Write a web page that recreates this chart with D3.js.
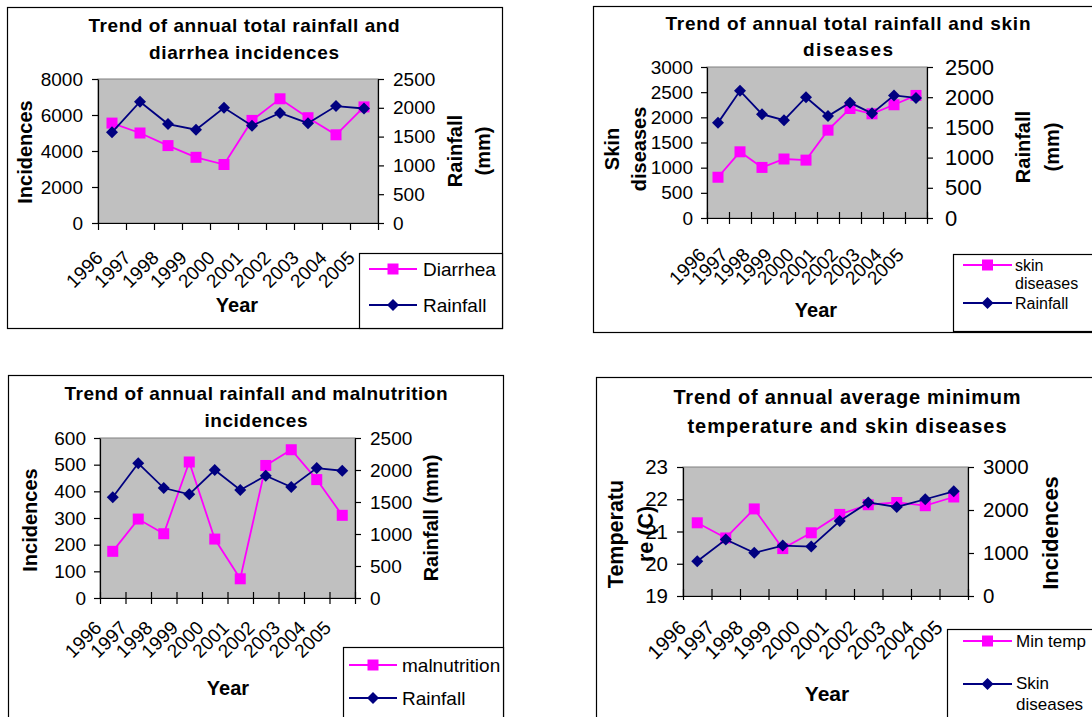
<!DOCTYPE html>
<html>
<head>
<meta charset="utf-8">
<script src="https://cdn.jsdelivr.net/npm/d3@7"></script>
<style>
  body { margin: 0; background: #fff; }
  svg { display: block; }
  text { font-family: "Liberation Sans", Arial, sans-serif; fill: #000; }
</style>
</head>
<body>
<svg id="chart" width="1092" height="717"></svg>
<script>
// ---- data ----
const years = ["1996", "1997", "1998", "1999", "2000", "2001", "2002", "2003", "2004", "2005"];
const rainfall = [1575, 2105, 1718, 1620, 2000, 1688, 1910, 1733, 2030, 1988];
const diarrhea = [5550, 5000, 4300, 3650, 3250, 5700, 6900, 5850, 4900, 6450];
const skinDiseases = [810, 1315, 1005, 1172, 1150, 1745, 2175, 2070, 2250, 2435];
const malnutrition = [175, 296, 241, 510, 221, 72, 497, 556, 444, 310];
const minTemp = [21.27, 20.8, 21.7, 20.47, 20.96, 21.53, 21.83, 21.9, 21.8, 22.07];

const diarrheaTicks = [0, 2000, 4000, 6000, 8000];
const skinTicks = [0, 500, 1000, 1500, 2000, 2500, 3000];
const malnutritionTicks = [0, 100, 200, 300, 400, 500, 600];
const tempTicks = [19, 20, 21, 22, 23];
const rainfallTicks = [0, 500, 1000, 1500, 2000, 2500];
const incidenceTicks = [0, 1000, 2000, 3000];

const MAGENTA = "#ff00ff";
const NAVY = "#000080";

const svg = d3.select("#chart");
const fmt = d3.format("d");

const squarePath = s => `M${-s/2},${-s/2}h${s}v${s}h${-s}Z`;
const diamondPath = r => `M0,${-r}L${r},0L0,${r}L${-r},0Z`;

function marker(g, kind, color, x, y) {
  g.append("path")
    .attr("d", kind === "square" ? squarePath(11) : diamondPath(6))
    .attr("transform", `translate(${x},${y})`)
    .attr("fill", color);
}

function drawPanel(p) {
  const g = svg.append("g");
  const [fx0, fy0, fx1, fy1] = p.frame;
  const [px0, py0, px1, py1] = p.plot;

  // outer chart frame
  g.append("rect")
    .attr("x", fx0 + 0.5).attr("y", fy0 + 0.5)
    .attr("width", fx1 - fx0).attr("height", fy1 - fy0)
    .attr("fill", "#fff").attr("stroke", "#000").attr("stroke-width", 1.2);

  // plot area
  g.append("rect")
    .attr("x", px0).attr("y", py0)
    .attr("width", px1 - px0).attr("height", py1 - py0)
    .attr("fill", "#c0c0c0").attr("stroke", "#808080").attr("stroke-width", 1);

  // scales
  const x = d3.scaleBand().domain(years).range([px0, px1]);
  const xEdge = d3.scaleLinear().domain([0, years.length]).range([px0, px1]);
  const yL = d3.scaleLinear().domain(p.left.domain).range([py1, py0]);
  const yR = d3.scaleLinear().domain(p.right.domain).range([py1, py0]);

  // left axis
  const la = g.append("g").attr("transform", `translate(${px0},0)`)
    .call(d3.axisLeft(yL).tickValues(p.left.ticks).tickFormat(fmt)
      .tickSize(6).tickSizeOuter(0).tickPadding(p.left.pad || 9));
  la.selectAll("text").style("font-size", p.left.font + "px").style("font-family", null);
  la.selectAll("line, path").attr("stroke", "#000").attr("stroke-width", 1.2);

  // right axis
  const ra = g.append("g").attr("transform", `translate(${px1},0)`)
    .call(d3.axisRight(yR).tickValues(p.right.ticks).tickFormat(fmt)
      .tickSize(6).tickSizeOuter(0).tickPadding(p.right.pad || 9));
  ra.selectAll("text").style("font-size", p.right.font + "px").style("font-family", null);
  ra.selectAll("line, path").attr("stroke", "#000").attr("stroke-width", 1.2);

  // bottom axis: ticks on category boundaries
  const ba = g.append("g").attr("transform", `translate(0,${py1})`)
    .call(d3.axisBottom(xEdge).tickValues(d3.range(years.length + 1))
      .tickSize(p.tickOut).tickSizeOuter(0).tickFormat(""));
  ba.selectAll("line, path").attr("stroke", "#000").attr("stroke-width", 1.2);
  if (p.tickIn) {
    ba.selectAll(".tick").append("line").attr("y2", -p.tickIn)
      .attr("stroke", "#000").attr("stroke-width", 1.2);
  }

  // category labels, rotated
  g.append("g").selectAll("text").data(years).join("text")
    .attr("transform", d => `translate(${x(d) + x.bandwidth() / 2 + p.xlab.dx},${py1 + p.xlab.dy}) rotate(-45)`)
    .attr("text-anchor", "end")
    .style("font-size", p.xlab.font + "px")
    .text(d => d);

  // series lines + markers (primary first, secondary on top)
  p.series.forEach(s => {
    const ys = s.axis === "left" ? yL : yR;
    const line = d3.line().x((d, i) => x(years[i]) + x.bandwidth() / 2).y(d => ys(d));
    g.append("path").datum(s.values)
      .attr("d", line).attr("fill", "none")
      .attr("stroke", s.color).attr("stroke-width", 1.8);
    const mg = g.append("g");
    s.values.forEach((v, i) => marker(mg, s.marker, s.color, x(years[i]) + x.bandwidth() / 2, ys(v)));
  });

  // title
  p.title.lines.forEach(l => {
    g.append("text")
      .attr("x", p.title.cx).attr("y", l.y)
      .attr("text-anchor", "middle")
      .attr("textLength", l.w).attr("lengthAdjust", "spacing")
      .style("font-size", p.title.font + "px").style("font-weight", "bold")
      .text(l.t);
  });

  // axis titles (rotated)
  [p.leftTitle, p.rightTitle].forEach(t => {
    t.lines.forEach((txt, i) => {
      g.append("text")
        .attr("transform", `translate(${t.xs[i]},${t.cy}) rotate(-90)`)
        .attr("text-anchor", "middle").attr("dy", "0.35em")
        .style("font-size", t.font + "px").style("font-weight", "bold")
        .text(txt);
    });
  });

  // x axis title
  g.append("text")
    .attr("x", p.xTitle.x).attr("y", p.xTitle.y)
    .attr("text-anchor", "middle")
    .style("font-size", p.xTitle.font + "px").style("font-weight", "bold")
    .text("Year");

  // legend
  const lg = p.legend;
  g.append("rect")
    .attr("x", lg.box[0] + 0.5).attr("y", lg.box[1] + 0.5)
    .attr("width", lg.box[2] - lg.box[0]).attr("height", lg.box[3] - lg.box[1])
    .attr("fill", "#fff").attr("stroke", "#000").attr("stroke-width", 1.2);
  lg.items.forEach((it, k) => {
    const s = p.series[k];
    g.append("line")
      .attr("x1", lg.line[0]).attr("x2", lg.line[1])
      .attr("y1", it.my).attr("y2", it.my)
      .attr("stroke", s.color).attr("stroke-width", 1.8);
    marker(g, s.marker, s.color, (lg.line[0] + lg.line[1]) / 2, it.my);
    it.labels.forEach((txt, j) => {
      g.append("text")
        .attr("x", lg.tx).attr("y", it.ys[j]).attr("dy", "0.35em")
        .style("font-size", lg.font + "px")
        .text(txt);
    });
  });
}

// ---- panels ----
drawPanel({
  frame: [7, 7, 502, 328],
  plot: [98, 79, 378, 223],
  left: { domain: [0, 8000], ticks: diarrheaTicks, font: 19 },
  right: { domain: [0, 2500], ticks: rainfallTicks, font: 19 },
  tickOut: 7, tickIn: 0,
  xlab: { dx: -8, dy: 36, font: 19 },
  series: [
    { values: diarrhea, axis: "left", color: MAGENTA, marker: "square" },
    { values: rainfall, axis: "right", color: NAVY, marker: "diamond" }
  ],
  title: { cx: 244, font: 19, lines: [
    { t: "Trend of annual total rainfall and", y: 32, w: 311 },
    { t: "diarrhea incidences", y: 59, w: 190 }
  ]},
  leftTitle: { lines: ["Incidences"], xs: [25], cy: 152, font: 20 },
  rightTitle: { lines: ["Rainfall", "(mm)"], xs: [455, 483], cy: 151, font: 20 },
  xTitle: { x: 237, y: 312, font: 20 },
  legend: { box: [359, 253, 502, 328], line: [369, 417], tx: 423, font: 19,
    items: [
      { labels: ["Diarrhea"], ys: [269], my: 269 },
      { labels: ["Rainfall"], ys: [305], my: 305 }
    ]}
});

drawPanel({
  frame: [593, 6, 1100, 332],
  plot: [707, 67, 927, 218],
  left: { domain: [0, 3000], ticks: skinTicks, font: 19, pad: 8 },
  right: { domain: [0, 2500], ticks: rainfallTicks, font: 22, pad: 12 },
  tickOut: 6, tickIn: 6,
  xlab: { dx: -11, dy: 38, font: 19 },
  series: [
    { values: skinDiseases, axis: "left", color: MAGENTA, marker: "square" },
    { values: rainfall, axis: "right", color: NAVY, marker: "diamond" }
  ],
  title: { cx: 848, font: 19, lines: [
    { t: "Trend of annual total rainfall and skin", y: 30, w: 365 },
    { t: "diseases", y: 56, w: 90 }
  ]},
  leftTitle: { lines: ["Skin", "diseases"], xs: [612, 639], cy: 149, font: 20 },
  rightTitle: { lines: ["Rainfall", "(mm)"], xs: [1023, 1052], cy: 147, font: 20 },
  xTitle: { x: 816, y: 317, font: 20 },
  legend: { box: [953, 254, 1100, 331], line: [963, 1012], tx: 1015, font: 16,
    items: [
      { labels: ["skin", "diseases"], ys: [265, 283], my: 265 },
      { labels: ["Rainfall"], ys: [303], my: 303 }
    ]}
});

drawPanel({
  frame: [8, 375, 503, 740],
  plot: [100, 438, 355, 598],
  left: { domain: [0, 600], ticks: malnutritionTicks, font: 19, pad: 8 },
  right: { domain: [0, 2500], ticks: rainfallTicks, font: 19 },
  tickOut: 6, tickIn: 6,
  xlab: { dx: -10, dy: 31, font: 19 },
  series: [
    { values: malnutrition, axis: "left", color: MAGENTA, marker: "square" },
    { values: rainfall, axis: "right", color: NAVY, marker: "diamond" }
  ],
  title: { cx: 256, font: 19, lines: [
    { t: "Trend of annual rainfall and malnutrition", y: 400, w: 383 },
    { t: "incidences", y: 427, w: 103 }
  ]},
  leftTitle: { lines: ["Incidences"], xs: [30], cy: 520, font: 20 },
  rightTitle: { lines: ["Rainfall (mm)"], xs: [431], cy: 518, font: 20 },
  xTitle: { x: 228, y: 695, font: 20 },
  legend: { box: [343, 647, 503, 740], line: [349, 397], tx: 402, font: 19,
    items: [
      { labels: ["malnutrition"], ys: [665], my: 665 },
      { labels: ["Rainfall"], ys: [698], my: 698 }
    ]}
});

drawPanel({
  frame: [596, 377, 1100, 740],
  plot: [683, 467, 968, 596],
  left: { domain: [19, 23], ticks: tempTicks, font: 20.5, pad: 9 },
  right: { domain: [0, 3000], ticks: incidenceTicks, font: 20.5, pad: 9 },
  tickOut: 4, tickIn: 7,
  xlab: { dx: -10, dy: 33, font: 20 },
  series: [
    { values: minTemp, axis: "left", color: MAGENTA, marker: "square" },
    { values: skinDiseases, axis: "right", color: NAVY, marker: "diamond" }
  ],
  title: { cx: 847, font: 20, lines: [
    { t: "Trend of annual average minimum", y: 404, w: 347 },
    { t: "temperature and skin diseases", y: 433, w: 319 }
  ]},
  leftTitle: { lines: ["Temperatu", "re (C)"], xs: [615, 645], cy: 534, font: 21.5 },
  rightTitle: { lines: ["Incidences"], xs: [1050], cy: 533, font: 22 },
  xTitle: { x: 827, y: 701, font: 21 },
  legend: { box: [947, 629, 1100, 740], line: [963, 1012], tx: 1016, font: 17,
    items: [
      { labels: ["Min temp"], ys: [641], my: 641 },
      { labels: ["Skin", "diseases"], ys: [683, 704], my: 684 }
    ]}
});
</script>
</body>
</html>
